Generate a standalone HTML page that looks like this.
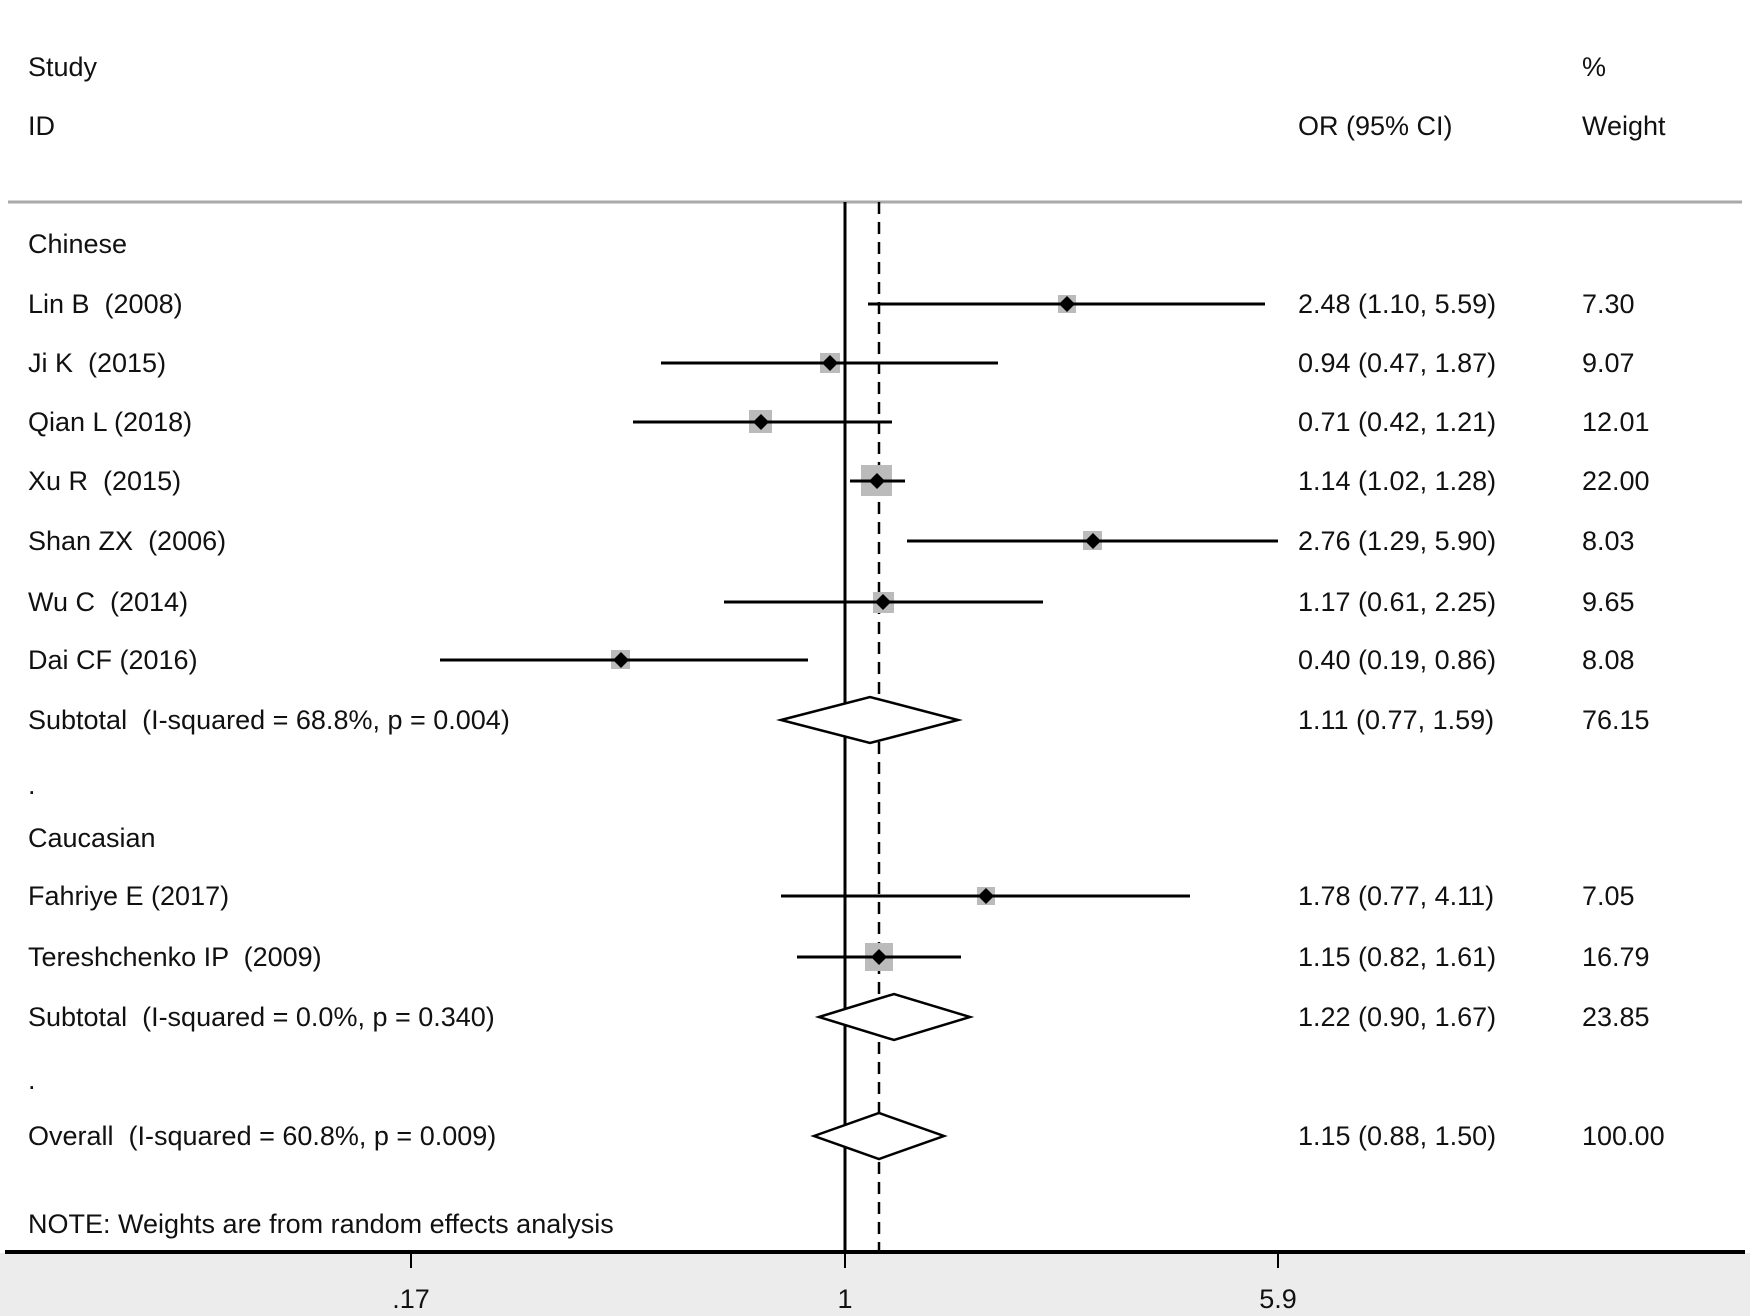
<!DOCTYPE html>
<html><head><meta charset="utf-8"><style>
html,body{margin:0;padding:0;background:#fff;}
svg{display:block;}
text{font-family:"Liberation Sans",Arial,sans-serif;font-size:27px;fill:#111;white-space:pre;}
</style></head><body>
<svg width="1750" height="1316" viewBox="0 0 1750 1316" xmlns="http://www.w3.org/2000/svg" xml:space="preserve">
<rect x="0" y="0" width="1750" height="1316" fill="#fff"/>
<rect x="0" y="1253" width="1750" height="63" fill="#ececec"/>
<line x1="8" y1="202" x2="1742" y2="202" stroke="#aaa" stroke-width="3"/>
<line x1="5" y1="1252" x2="1745" y2="1252" stroke="#000" stroke-width="4"/>
<g stroke="#000" stroke-width="2">
<line x1="411" y1="1252" x2="411" y2="1268"/>
<line x1="845" y1="1252" x2="845" y2="1268"/>
<line x1="1278" y1="1252" x2="1278" y2="1268"/>
</g>
<text x="411" y="1308" text-anchor="middle">.17</text>
<text x="845" y="1308" text-anchor="middle">1</text>
<text x="1278" y="1308" text-anchor="middle">5.9</text>
<line x1="845" y1="202" x2="845" y2="1252" stroke="#000" stroke-width="3"/>
<line x1="879" y1="202" x2="879" y2="1252" stroke="#000" stroke-width="2.5" stroke-dasharray="12,8"/>

<text x="28" y="76">Study</text>
<text x="28" y="135">ID</text>
<text x="1582" y="76">%</text>
<text x="1582" y="135">Weight</text>
<text x="1298" y="135">OR (95% CI)</text>

<g>
<text x="28" y="253">Chinese</text>
<text x="28" y="313">Lin B  (2008)</text>
<text x="28" y="372">Ji K  (2015)</text>
<text x="28" y="431">Qian L (2018)</text>
<text x="28" y="490">Xu R  (2015)</text>
<text x="28" y="550">Shan ZX  (2006)</text>
<text x="28" y="611">Wu C  (2014)</text>
<text x="28" y="669">Dai CF (2016)</text>
<text x="28" y="729">Subtotal  (I-squared = 68.8%, p = 0.004)</text>
<text x="28" y="794">.</text>
<text x="28" y="847">Caucasian</text>
<text x="28" y="905">Fahriye E (2017)</text>
<text x="28" y="966">Tereshchenko IP  (2009)</text>
<text x="28" y="1026">Subtotal  (I-squared = 0.0%, p = 0.340)</text>
<text x="28" y="1089">.</text>
<text x="28" y="1145">Overall  (I-squared = 60.8%, p = 0.009)</text>
<text x="28" y="1233">NOTE: Weights are from random effects analysis</text>
</g>
<g>
<text x="1298" y="313">2.48 (1.10, 5.59)</text><text x="1582" y="313">7.30</text>
<text x="1298" y="372">0.94 (0.47, 1.87)</text><text x="1582" y="372">9.07</text>
<text x="1298" y="431">0.71 (0.42, 1.21)</text><text x="1582" y="431">12.01</text>
<text x="1298" y="490">1.14 (1.02, 1.28)</text><text x="1582" y="490">22.00</text>
<text x="1298" y="550">2.76 (1.29, 5.90)</text><text x="1582" y="550">8.03</text>
<text x="1298" y="611">1.17 (0.61, 2.25)</text><text x="1582" y="611">9.65</text>
<text x="1298" y="669">0.40 (0.19, 0.86)</text><text x="1582" y="669">8.08</text>
<text x="1298" y="729">1.11 (0.77, 1.59)</text><text x="1582" y="729">76.15</text>
<text x="1298" y="905">1.78 (0.77, 4.11)</text><text x="1582" y="905">7.05</text>
<text x="1298" y="966">1.15 (0.82, 1.61)</text><text x="1582" y="966">16.79</text>
<text x="1298" y="1026">1.22 (0.90, 1.67)</text><text x="1582" y="1026">23.85</text>
<text x="1298" y="1145">1.15 (0.88, 1.50)</text><text x="1582" y="1145">100.00</text>
</g>

<g fill="#bbb">
<rect x="1058" y="295" width="18" height="18"/>
<rect x="820" y="353" width="20" height="20"/>
<rect x="749" y="410" width="23" height="23"/>
<rect x="861" y="465" width="31" height="31"/>
<rect x="1083" y="531" width="19" height="19"/>
<rect x="873" y="592" width="21" height="21"/>
<rect x="611" y="650" width="19" height="19"/>
<rect x="977" y="887" width="18" height="18"/>
<rect x="865" y="943" width="28" height="28"/>
</g>
<g stroke="#000" stroke-width="3">
<line x1="868" y1="304" x2="1265" y2="304"/>
<line x1="661" y1="363" x2="998" y2="363"/>
<line x1="633" y1="422" x2="892" y2="422"/>
<line x1="850" y1="481" x2="905" y2="481"/>
<line x1="907" y1="541" x2="1278" y2="541"/>
<line x1="724" y1="602" x2="1043" y2="602"/>
<line x1="440" y1="660" x2="808" y2="660"/>
<line x1="781" y1="896" x2="1190" y2="896"/>
<line x1="797" y1="957" x2="961" y2="957"/>
</g>
<g fill="#000">
<polygon points="1067,296 1075,304 1067,312 1059,304"/>
<polygon points="830,355 838,363 830,371 822,363"/>
<polygon points="761,414 769,422 761,430 753,422"/>
<polygon points="877,473 885,481 877,489 869,481"/>
<polygon points="1093,533 1101,541 1093,549 1085,541"/>
<polygon points="883,594 891,602 883,610 875,602"/>
<polygon points="621,652 629,660 621,668 613,660"/>
<polygon points="986,888 994,896 986,904 978,896"/>
<polygon points="879,949 887,957 879,965 871,957"/>
</g>
<g fill="#fff" stroke="#000" stroke-width="2.5">
<polygon points="781,720 870,697 958,720 870,743"/>
<polygon points="819,1017 894,994 970,1017 894,1040"/>
<polygon points="814,1136 879,1113 944,1136 879,1159"/>
</g>
</svg>
</body></html>
